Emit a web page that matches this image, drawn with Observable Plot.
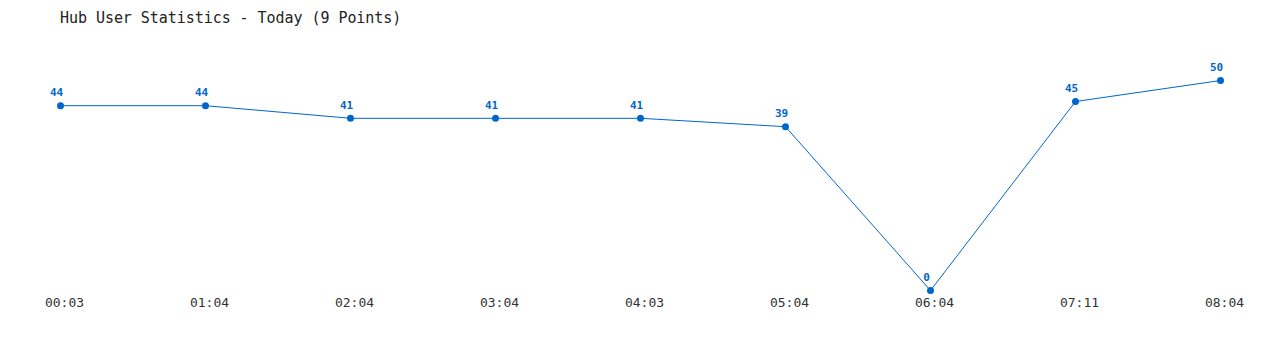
<!DOCTYPE html>
<html>
<head>
<meta charset="utf-8">
<script src="https://cdn.jsdelivr.net/npm/d3@7"></script>
<script src="https://cdn.jsdelivr.net/npm/@observablehq/plot@0.6"></script>
<style>
  html, body { margin: 0; padding: 0; background: #fff; }
  #wrap { position: relative; width: 1280px; height: 350px; }
  #title { position: absolute; left: 60px; top: 11px; font-family: "DejaVu Sans Mono", monospace; font-size: 15px; line-height: 15px; color: #222; white-space: nowrap; letter-spacing: -0.05px; }
  #chart svg { display: block; }
</style>
</head>
<body>
<div id="wrap">
  <div id="chart"></div>
  <div id="title">Hub User Statistics - Today (9 Points)</div>
</div>
<script>
const times = ["00:03", "01:04", "02:04", "03:04", "04:03", "05:04", "06:04", "07:11", "08:04"];
const users = [44, 44, 41, 41, 41, 39, 0, 45, 50];

const data = times.map((t, i) => ({time: t, users: users[i]}));
const blue = "#0066cc";

const chart = Plot.plot({
  width: 1280,
  height: 350,
  marginLeft: 60,
  marginRight: 60,
  marginTop: 80,
  marginBottom: 60,
  style: {background: "#fff", fontFamily: "DejaVu Sans Mono, monospace"},
  x: {type: "point", domain: times, padding: 0, label: null},
  y: {domain: [0, 50], axis: null},
  marks: [
    Plot.axisX({tickSize: 0, tickPadding: 7, dx: 4, fontSize: 13, fill: "#333", label: null, fontFamily: "DejaVu Sans Mono, monospace"}),
    Plot.line(data, {x: "time", y: "users", stroke: blue, strokeWidth: 1}),
    Plot.dot(data, {x: "time", y: "users", r: 3.5, fill: blue, stroke: "none"}),
    Plot.text(data, {x: "time", y: "users", text: d => String(d.users), dx: -4, dy: -13, fill: blue, fontSize: 11, fontWeight: "bold", fontFamily: "DejaVu Sans Mono, monospace"})
  ]
});
document.getElementById("chart").appendChild(chart);
</script>
</body>
</html>
